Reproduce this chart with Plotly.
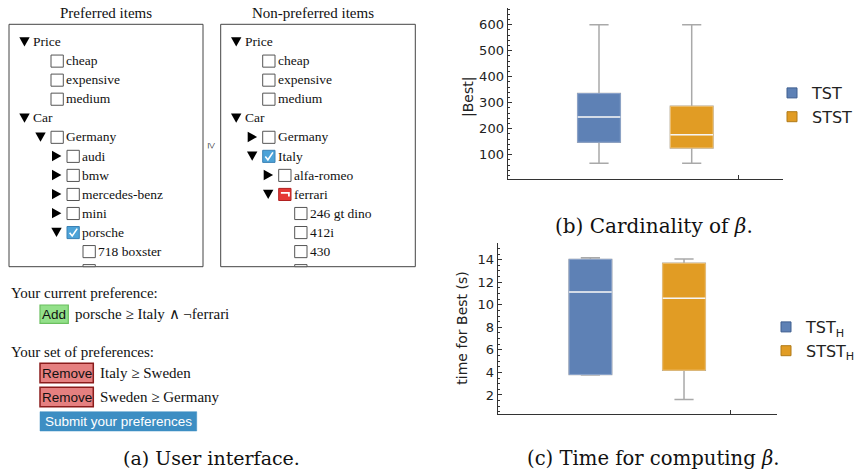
import plotly.graph_objects as go

W, H = 856, 470


def X(p):
    return p / W


def Y(p):
    return 1 - p / H


# ---------------- chart data ----------------
B_CATEGORIES = ["TST", "STST"]
B_POSITIONS = [1, 2]
B_LOWER = [67, 67]
B_Q1 = [148, 126]
B_MEDIAN = [245, 177]
B_Q3 = [335, 286]
B_UPPER = [600, 600]
B_YTICKS = [100, 200, 300, 400, 500, 600]
B_YTITLE = "|Best|"

C_CATEGORIES = ["TST<sub>H</sub>", "STST<sub>H</sub>"]
C_POSITIONS = [1, 2]
C_LOWER = [3.78, 1.6]
C_Q1 = [3.82, 4.2]
C_MEDIAN = [11.13, 10.57]
C_Q3 = [14.03, 13.68]
C_UPPER = [14.18, 14.06]
C_YTICKS = [2, 4, 6, 8, 10, 12, 14]
C_YTITLE = "time for Best (s)"

COLORS = ["#5E81B5", "#E19C24"]
EDGES = ["#8AA3CB", "#EFC173"]
LEGEND_EDGES = ["#3F5F8F", "#B07A18"]
WHISKER = "#A9A9A9"
AXIS = "#333333"

# ---------------- UI data ----------------
PREFERRED_ROWS = [
    (0, "down", None, "Price"),
    (1, None, "empty", "cheap"),
    (1, None, "empty", "expensive"),
    (1, None, "empty", "medium"),
    (0, "down", None, "Car"),
    (1, "down", "empty", "Germany"),
    (2, "right", "empty", "audi"),
    (2, "right", "empty", "bmw"),
    (2, "right", "empty", "mercedes-benz"),
    (2, "right", "empty", "mini"),
    (2, "down", "checked", "porsche"),
    (3, None, "empty", "718 boxster"),
    (3, None, "empty", ""),
]
NONPREFERRED_ROWS = [
    (0, "down", None, "Price"),
    (1, None, "empty", "cheap"),
    (1, None, "empty", "expensive"),
    (1, None, "empty", "medium"),
    (0, "down", None, "Car"),
    (1, "right", "empty", "Germany"),
    (1, "down", "checked", "Italy"),
    (2, "right", "empty", "alfa-romeo"),
    (2, "down", "negated", "ferrari"),
    (3, None, "empty", "246 gt dino"),
    (3, None, "empty", "412i"),
    (3, None, "empty", "430"),
    (3, None, "empty", ""),
]
PANEL_TITLES = ["Preferred items", "Non-preferred items"]
CURRENT_LABEL = "Your current preference:"
CURRENT_PREF = "porsche ≥ Italy ∧ ¬ferrari"
SET_LABEL = "Your set of preferences:"
SET_PREFS = ["Italy ≥ Sweden", "Sweden ≥ Germany"]
CAPTIONS = ["(a) User interface.", "(b) Cardinality of <i>β</i>.", "(c) Time for computing <i>β</i>."]

SERIF = "Liberation Serif"
SANS = "Liberation Sans"
CHART_FONT = "DejaVu Sans"
CAPTION_FONT = "DejaVu Serif"

fig = go.Figure()
shapes = []
annotations = []


def rect(x0, y0, x1, y1, fill, line, lw=1.0):
    shapes.append(dict(type="rect", xref="paper", yref="paper",
                       x0=X(x0), x1=X(x1), y0=Y(y1), y1=Y(y0),
                       fillcolor=fill, line=dict(color=line, width=lw)))


def path(points, fill=None, line=None, lw=1.0, close=True):
    d = "M " + " L ".join(f"{X(px):.5f},{Y(py):.5f}" for px, py in points)
    if close:
        d += " Z"
    shapes.append(dict(type="path", xref="paper", yref="paper", path=d,
                       fillcolor=fill or "rgba(0,0,0,0)",
                       line=dict(color=line or "rgba(0,0,0,0)", width=lw)))


def text(x, y, s, size, family, color="#111111", anchor="left", angle=0):
    annotations.append(dict(x=X(x), y=Y(y), xref="paper", yref="paper", text=s,
                            showarrow=False, xanchor=anchor, yanchor="middle",
                            textangle=angle, borderpad=0,
                            font=dict(family=family, size=size, color=color)))


# ---------------- tree panels ----------------
PANEL_TOP, PANEL_BOTTOM = 24.3, 266.7
PANELS = [(9, 203, PREFERRED_ROWS, 106), (220.7, 415.3, NONPREFERRED_ROWS, 313)]
ROW0, ROWSTEP = 41.7, 19.05

for (left, right, rows, tcx), title in zip(PANELS, PANEL_TITLES):
    text(tcx, 12.7, title, 15, SERIF, anchor="center")
    rect(left, PANEL_TOP, right, PANEL_BOTTOM, "white", "#444444", 1)
    for i, (level, tri, box, label) in enumerate(rows):
        cy = ROW0 + i * ROWSTEP
        if level == 0:
            tri_cx = left + 15.5
            text_x = left + 23.0
            cb_left = None
        else:
            cb_left = left + 42 + 16 * (level - 1)
            tri_cx = cb_left - 10.5
            text_x = cb_left + 14.0
        if tri == "down":
            path([(tri_cx - 5.2, cy - 4.4), (tri_cx + 5.2, cy - 4.4), (tri_cx, cy + 4.8)], fill="#000000")
        elif tri == "right":
            path([(tri_cx - 4.5, cy - 5.2), (tri_cx + 4.9, cy), (tri_cx - 4.5, cy + 5.2)], fill="#000000")
        if box is not None:
            top, bot = cy - 5.7, cy + 6.4
            if top < PANEL_BOTTOM:
                bot = min(bot, PANEL_BOTTOM)
                if box == "empty":
                    rect(cb_left, top, cb_left + 12.3, bot, "white", "#555555", 1)
                elif box == "checked":
                    rect(cb_left, top, cb_left + 12.3, bot, "#4DA3D8", "#3B82B5", 1)
                    path([(cb_left + 2.6, cy + 0.6), (cb_left + 5.2, cy + 3.8), (cb_left + 10.2, cy - 3.6)],
                         line="white", lw=1.6, close=False)
                elif box == "negated":
                    rect(cb_left, top, cb_left + 12.3, bot, "#E53935", "#B02020", 1)
                    path([(cb_left + 2.2, cy - 1.2), (cb_left + 10.2, cy - 1.2), (cb_left + 10.2, cy + 2.4)],
                         line="white", lw=1.8, close=False)
        if label:
            text(text_x, cy, label, 13.5, SERIF)

text(212.3, 145.7, "≥", 12, SERIF, anchor="center", angle=90)

# ---------------- preference controls ----------------
text(10, 293.3, CURRENT_LABEL, 15, SERIF)
rect(40, 305, 68.3, 323.3, "#93E08A", "#6BBF5F", 1.2)
text(54.2, 314.3, "Add", 13.5, SANS, anchor="center")
text(74, 314.3, CURRENT_PREF, 15, SERIF)

text(10, 351.7, SET_LABEL, 15, SERIF)
for k, pref in enumerate(SET_PREFS):
    y0 = 363.3 + 24 * k
    rect(40, y0, 93.3, y0 + 19.4, "#E58080", "#8B1C1C", 1.5)
    text(66.7, y0 + 9.9, "Remove", 13.5, SANS, anchor="center")
    text(99.3, y0 + 10, pref, 15, SERIF)
rect(40, 411.7, 196.7, 431, "#3D8EC3", "#3D8EC3", 0.5)
text(118.3, 421.5, "Submit your preferences", 13.5, SANS, color="white", anchor="center")

# ---------------- box charts ----------------


def add_boxes(cats, pos, lower, q1, med, q3, upper, xa, ya, width, legend):
    for i in range(len(cats)):
        fig.add_trace(go.Box(x=[pos[i]], q1=[q1[i]], median=[med[i]], q3=[q3[i]],
                             lowerfence=[lower[i]], upperfence=[upper[i]],
                             width=width, whiskerwidth=0.45, fillcolor=COLORS[i],
                             line=dict(color=WHISKER, width=1.5), boxpoints=False,
                             xaxis=xa, yaxis=ya, showlegend=False, hoverinfo="skip"))
        fig.add_trace(go.Box(x=[pos[i]], q1=[q1[i]], median=[med[i]], q3=[q3[i]],
                             lowerfence=[q1[i]], upperfence=[q3[i]],
                             width=width, whiskerwidth=0, fillcolor=COLORS[i],
                             line=dict(color=EDGES[i], width=1), boxpoints=False,
                             xaxis=xa, yaxis=ya, showlegend=False, hoverinfo="skip"))
        fig.add_trace(go.Scatter(x=[pos[i] - width / 2, pos[i] + width / 2], y=[med[i], med[i]],
                                 mode="lines", line=dict(color="#F5F5F5", width=1.5),
                                 xaxis=xa, yaxis=ya, showlegend=False, hoverinfo="skip"))
        fig.add_trace(go.Scatter(x=[None], y=[None], mode="markers", name=cats[i],
                                 marker=dict(symbol="square", size=10, color=COLORS[i],
                                             line=dict(color=LEGEND_EDGES[i], width=1)),
                                 xaxis=xa, yaxis=ya, legend=legend))


add_boxes(B_CATEGORIES, B_POSITIONS, B_LOWER, B_Q1, B_MEDIAN, B_Q3, B_UPPER, "x", "y", 0.46, "legend")
add_boxes(C_CATEGORIES, C_POSITIONS, C_LOWER, C_Q1, C_MEDIAN, C_Q3, C_UPPER, "x2", "y2", 0.455, "legend2")

xcommon = dict(showline=True, linecolor=AXIS, linewidth=1.3, tickvals=[2.5], ticktext=[""],
               ticks="inside", ticklen=4, tickcolor=AXIS, showgrid=False, zeroline=False)
ycommon = dict(showline=True, linecolor=AXIS, linewidth=1.3, ticks="inside", ticklen=4,
               tickcolor=AXIS, showgrid=False, zeroline=False,
               tickfont=dict(family=CHART_FONT, size=13, color="#222222"))

text(468, 97, B_YTITLE, 14, CHART_FONT, color="#222222", anchor="center", angle=-90)
text(461.7, 328, C_YTITLE, 14, CHART_FONT, color="#222222", anchor="center", angle=-90)

for ann_x, ann_y, cap, size in [(211.7, 458.3, CAPTIONS[0], 19), (654, 225.5, CAPTIONS[1], 20),
                                (652.7, 458.3, CAPTIONS[2], 19.6)]:
    text(ann_x, ann_y, cap, size, CAPTION_FONT, anchor="center")

legend_common = dict(xanchor="left", yanchor="top", bgcolor="rgba(0,0,0,0)", tracegroupgap=0,
                     font=dict(family=CHART_FONT, size=16, color="#222222"))

fig.update_layout(
    width=W, height=470, margin=dict(l=0, r=0, t=0, b=0, autoexpand=False),
    paper_bgcolor="white", plot_bgcolor="white", boxmode="overlay",
    xaxis=dict(domain=[X(507.7), X(783)], range=[0.015, 2.985], anchor="y", **xcommon),
    yaxis=dict(domain=[Y(179), Y(8)], range=[6.5, 664], anchor="x", tickvals=B_YTICKS,
               minor=dict(ticks="inside", ticklen=2, dtick=20, tick0=0, tickcolor=AXIS, showgrid=False),
               **ycommon),
    xaxis2=dict(domain=[X(497.7), X(776.7)], range=[0.01, 2.99], anchor="y2", **xcommon),
    yaxis2=dict(domain=[Y(414), Y(242.7)], range=[0.31, 15.51], anchor="x2", tickvals=C_YTICKS,
                minor=dict(ticks="inside", ticklen=2, dtick=0.5, tick0=0, tickcolor=AXIS, showgrid=False),
                **ycommon),
    legend=dict(x=X(772), y=Y(76), **legend_common),
    legend2=dict(x=X(766), y=Y(310), **legend_common),
    shapes=shapes, annotations=annotations,
)

fig.write_html("out.html", config={"displayModeBar": False},
               post_script="document.body.style.margin='0';document.body.style.overflow='hidden';")
